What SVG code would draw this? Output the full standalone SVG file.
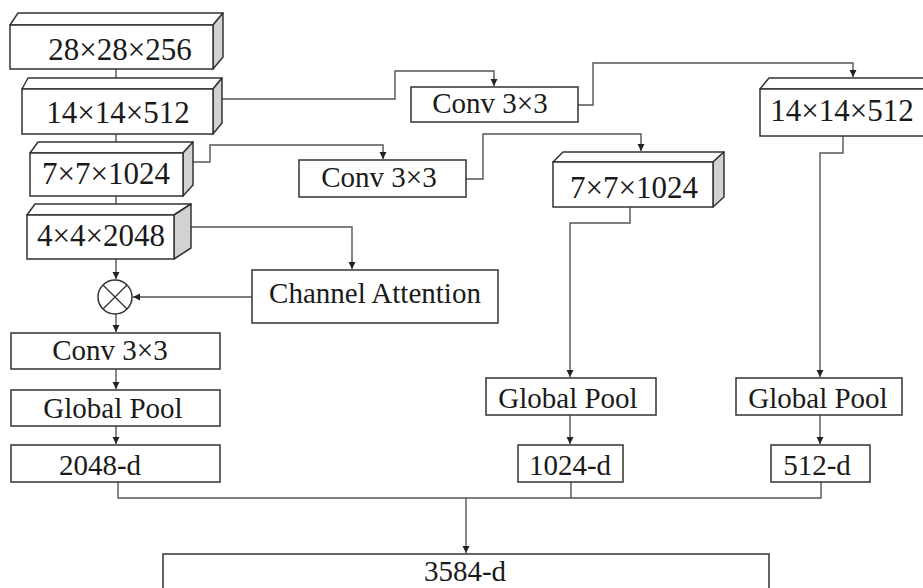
<svg xmlns="http://www.w3.org/2000/svg" width="923" height="588" viewBox="0 0 923 588">
<defs>
<marker id="ah" markerUnits="userSpaceOnUse" markerWidth="8" markerHeight="8" refX="7" refY="3.5" orient="auto">
<path d="M0,0 L7,3.5 L0,7 z" fill="#222"/>
</marker>
<style>
.bx{fill:#fff;stroke:#333;stroke-width:1.5}
.side{fill:#d2d2d2;stroke:#333;stroke-width:1.5;stroke-linejoin:round}
.top{fill:#fff;stroke:#333;stroke-width:1.5;stroke-linejoin:round}
.ln{fill:none;stroke:#555;stroke-width:1.4}
.ar{fill:none;stroke:#555;stroke-width:1.4;marker-end:url(#ah)}
text{font-family:"Liberation Serif","Times New Roman",serif;fill:#1a1a1a;text-anchor:middle}
.t30{font-size:31px}
.t29{font-size:29px}
</style>
</defs>
<rect width="923" height="588" fill="#fff"/>

<g id="connectors">
<path class="ar" d="M116,69 V88"/>
<path class="ar" d="M116,134 V152"/>
<path class="ar" d="M116,196 V214"/>
<path class="ar" d="M116,259 V279"/>
<path class="ar" d="M116,314 V332"/>
<path class="ar" d="M116,369 V389"/>
<path class="ar" d="M116,426 V444"/>
<path class="ar" d="M222,99 H395 V71 H494 V86"/>
<path class="ar" d="M578,105 H593 V63 H853 V77"/>
<path class="ar" d="M193,162 H210 V145 H383 V159"/>
<path class="ar" d="M466,179 H483 V134 H641 V151"/>
<path class="ar" d="M191,227 H352 V269"/>
<path class="ar" d="M252,297 H133"/>
<path class="ar" d="M630,207 V223 H570 V377"/>
<path class="ar" d="M843,136 V153 H820 V377"/>
<path class="ar" d="M570,415 V444"/>
<path class="ar" d="M820,415 V444"/>
<path class="ln" d="M118,482 V498 H821 V482 M571,482 V498"/>
<path class="ar" d="M466,498 V553"/>
</g>

<g id="n_28x28x256">
<polygon class="top" points="10,25 18,13 223,13 213,25"/>
<polygon class="side" points="213,25 223,13 223,57 213,69"/>
<rect class="bx" x="10" y="25" width="203" height="44"/>
<text class="t30" x="120" y="60">28×28×256</text>
</g>

<g id="n_14x14x512">
<polygon class="top" points="22,89 28,78 222,78 213,89"/>
<polygon class="side" points="213,89 222,78 222,123 213,134"/>
<rect class="bx" x="22" y="89" width="191" height="45"/>
<text class="t30" x="118" y="123">14×14×512</text>
</g>

<g id="n_7x7x1024">
<polygon class="top" points="30,153 38,142 193,142 183,153"/>
<polygon class="side" points="183,153 193,142 193,185 183,196"/>
<rect class="bx" x="30" y="153" width="153" height="43"/>
<text class="t30" x="106" y="184">7×7×1024</text>
</g>

<g id="n_4x4x2048">
<polygon class="top" points="27,215 35,204 191,204 174,215"/>
<polygon class="side" points="174,215 191,204 191,248 174,259"/>
<rect class="bx" x="27" y="215" width="147" height="44"/>
<text class="t30" x="101" y="246">4×4×2048</text>
</g>

<g id="n_mult">
<circle cx="115" cy="297" r="17" fill="#fff" stroke="#333" stroke-width="1.5"/>
<path d="M103,285 L127,309 M127,285 L103,309" stroke="#333" stroke-width="1.3"/>
</g>

<g id="n_channel_attention">
<rect class="bx" x="252" y="270" width="246" height="53"/>
<text class="t29" x="375" y="303">Channel Attention</text>
</g>

<g id="n_conv_left">
<rect class="bx" x="11" y="333" width="209" height="36"/>
<text class="t29" x="110" y="360">Conv 3×3</text>
</g>

<g id="n_gp_left">
<rect class="bx" x="11" y="390" width="209" height="36"/>
<text class="t29" x="113" y="418">Global Pool</text>
</g>

<g id="n_2048d">
<rect class="bx" x="11" y="445" width="209" height="37"/>
<text class="t29" x="100" y="475">2048-d</text>
</g>

<g id="n_conv_top">
<rect class="bx" x="411" y="87" width="167" height="35"/>
<text class="t29" x="490" y="113">Conv 3×3</text>
</g>

<g id="n_conv_mid">
<rect class="bx" x="299" y="160" width="167" height="37"/>
<text class="t29" x="379" y="187">Conv 3×3</text>
</g>

<g id="n_14x14x512_r">
<polygon class="top" points="760,89 769,78 935,78 926,89"/>
<rect class="bx" x="760" y="89" width="170" height="47"/>
<text class="t30" x="842" y="121">14×14×512</text>
</g>

<g id="n_7x7x1024_r">
<polygon class="top" points="553,162 563,152 724,152 713,162"/>
<polygon class="side" points="713,162 724,152 724,197 713,207"/>
<rect class="bx" x="553" y="162" width="160" height="45"/>
<text class="t30" x="634" y="198">7×7×1024</text>
</g>

<g id="n_gp_mid">
<rect class="bx" x="486" y="378" width="170" height="37"/>
<text class="t29" x="568" y="408">Global Pool</text>
</g>

<g id="n_gp_right">
<rect class="bx" x="736" y="378" width="166" height="37"/>
<text class="t29" x="818" y="408">Global Pool</text>
</g>

<g id="n_1024d">
<rect class="bx" x="518" y="445" width="105" height="37"/>
<text class="t29" x="570" y="475">1024-d</text>
</g>

<g id="n_512d">
<rect class="bx" x="771" y="445" width="99" height="37"/>
<text class="t29" x="817" y="475">512-d</text>
</g>

<g id="n_3584d">
<rect class="bx" x="163" y="554" width="606" height="50"/>
<text class="t29" x="465" y="581">3584-d</text>
</g>
</svg>
